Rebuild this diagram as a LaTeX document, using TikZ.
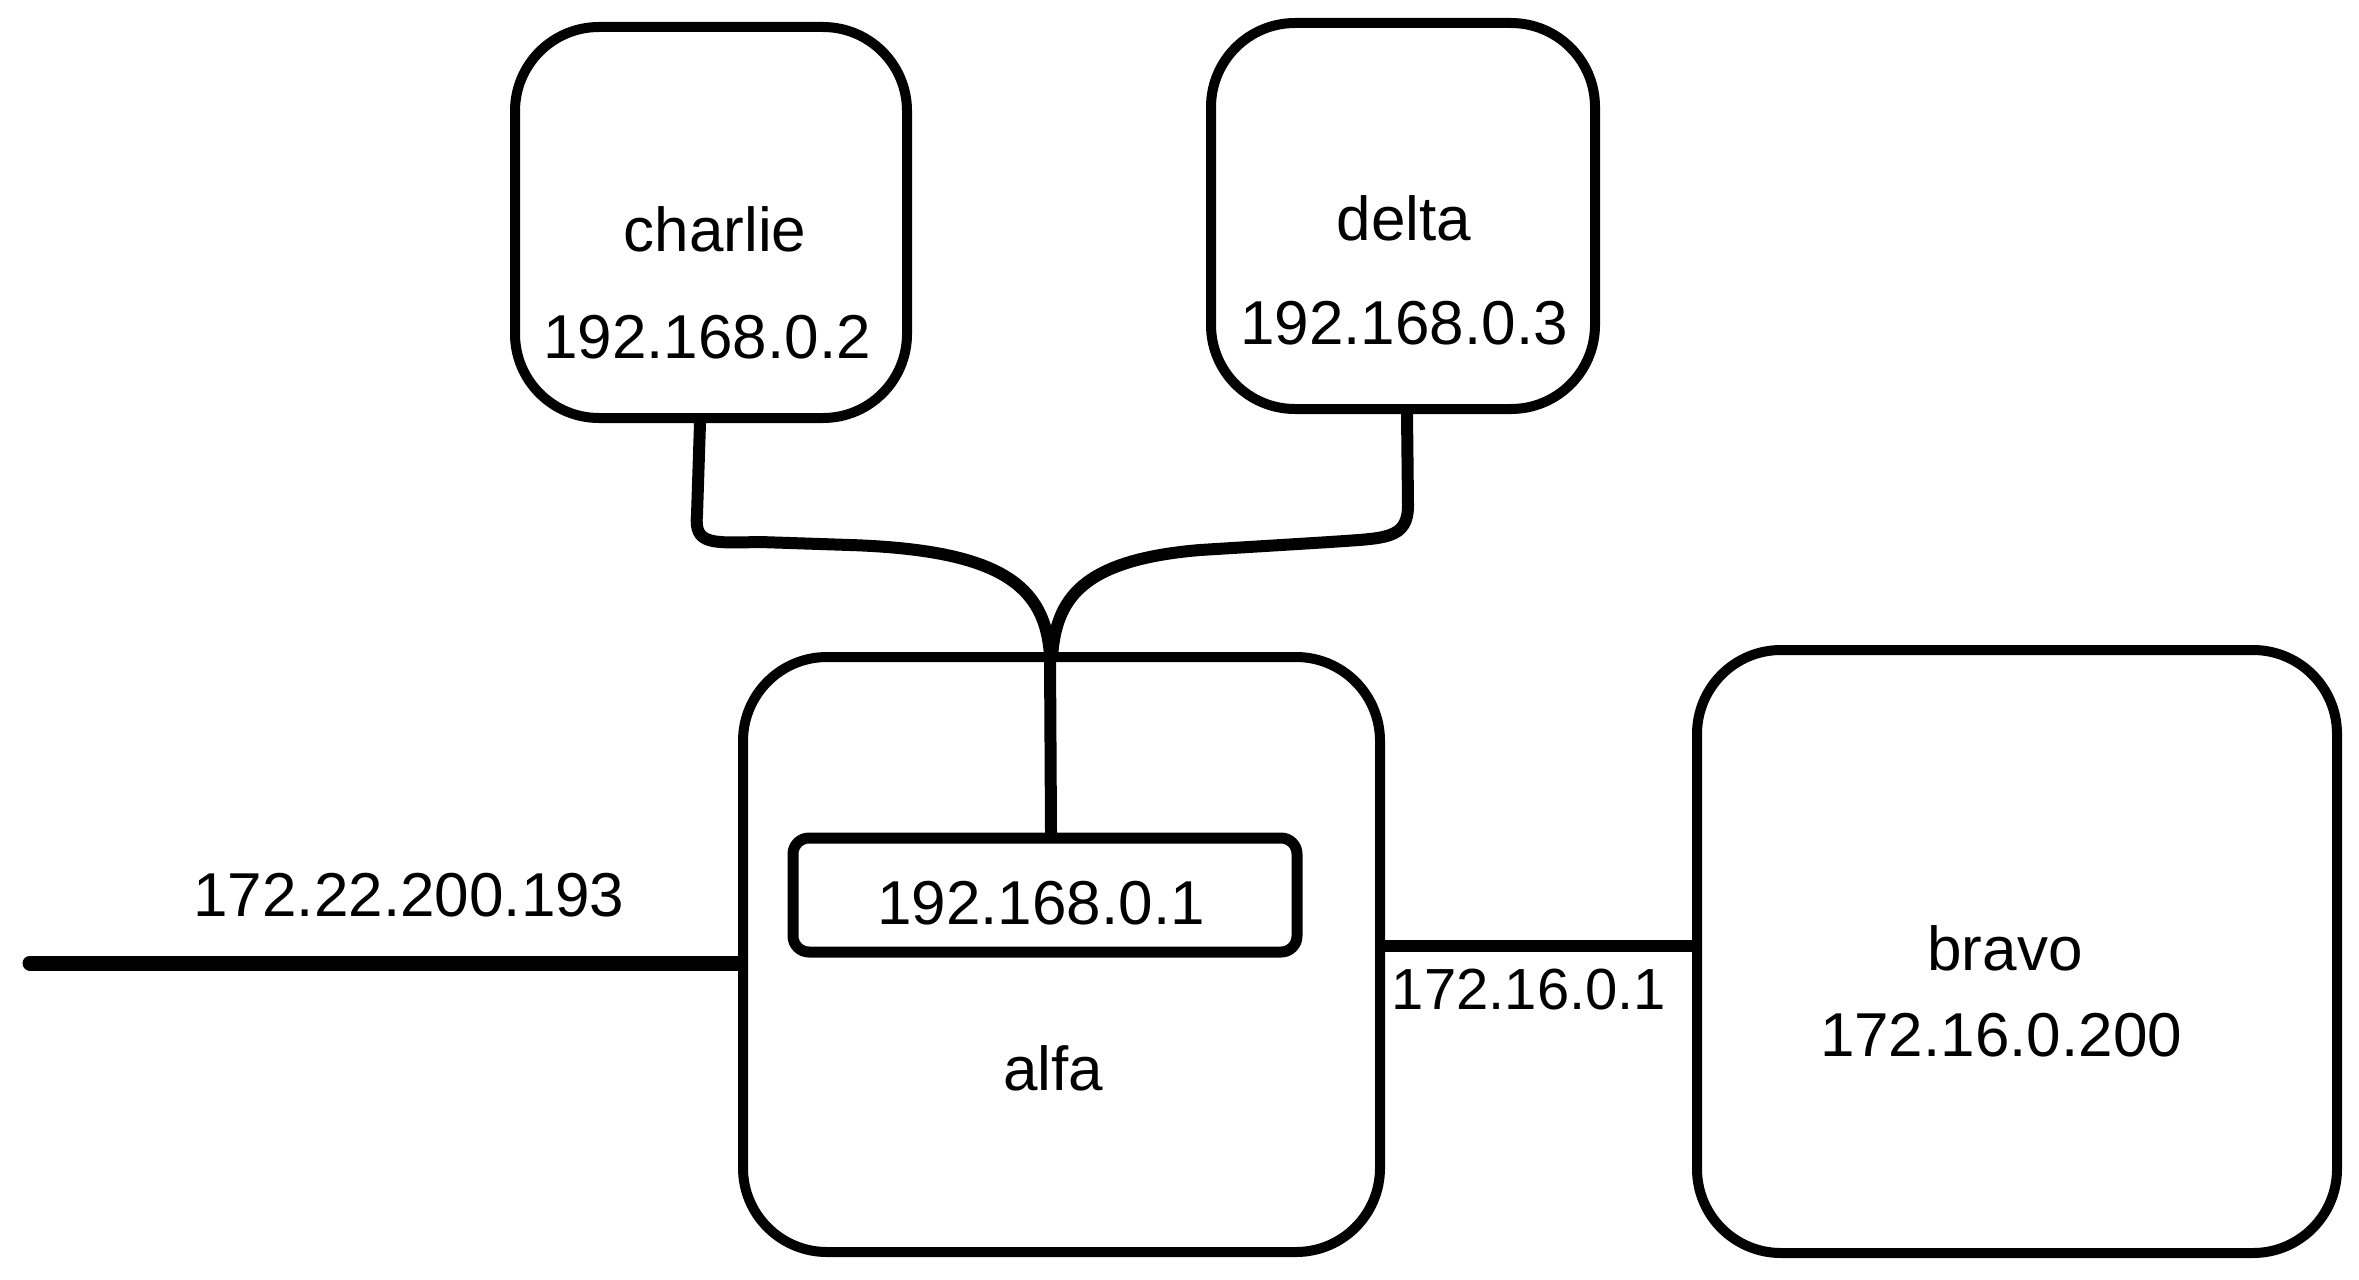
\documentclass[tikz,border=0pt]{standalone}
\usepackage{fontspec}
\setmainfont{Liberation Sans}
\usetikzlibrary{fit}
\begin{document}
\begin{tikzpicture}[x=0.5pt,y=-0.5pt,
  box/.style={draw=black,line width=5pt,rounded corners=42pt,inner sep=0pt},
  ibox/.style={draw=black,line width=5.5pt,rounded corners=8pt,inner sep=0pt},
  wire/.style={draw=black,line width=6pt,line cap=round,line join=round},
  lbl/.style={font=\fontsize{31}{36}\selectfont,inner sep=0pt}]
\useasboundingbox (0,0) rectangle (2359,1279);
% boxes
\node[box,fit={(515,27) (907,418)}] (charlie) {};
\node[box,fit={(1211,23) (1595,409)}] (delta) {};
\node[box,fit={(743,657) (1380,1252)}] (alfa) {};
\node[box,fit={(1697,650) (2337,1253)}] (bravo) {};
\node[ibox,fit={(793,838) (1297,952)}] (inner) {};
% labels
\node[lbl] (tcharlie) at (715,229) {charlie};
\node[lbl] (tcharlieip) at (707,337) {192.168.0.2};
\node[lbl] (tdelta) at (1404,218) {delta};
\node[lbl] (tdeltaip) at (1404,323) {192.168.0.3};
\node[lbl] (tinner) at (1041,903) {192.168.0.1};
\node[lbl] (talfa) at (1053,1068) {alfa};
\node[lbl] (tbravo) at (2005,948) {bravo};
\node[lbl] (tbravoip) at (2001,1035) {172.16.0.200};
\node[lbl] (twan) at (409,895) {172.22.200.193};
\node[lbl,font=\fontsize{29}{34}\selectfont] (tlan) at (1529,990) {172.16.0.1};
% connectors
\coordinate (lft) at (30,963);
\coordinate (cstart) at (700,421);
\coordinate (dstart) at (1407,411);
\coordinate (join) at (1051,657);
\draw[wire,line width=7.5pt] (lft) -- (lft -| alfa.west);
\draw[wire] (alfa.east |- 0,946) -- (bravo.west |- 0,946);
\draw[wire] (charlie.south -| cstart) -- (697,515)
  .. controls (694,545) and (712,543) .. (760,542) -- (850,545)
  .. controls (1000,550) and (1046,585) .. (1050,657) -- (inner.north -| join);
\draw[wire] (delta.south -| dstart) -- (1408,505)
  .. controls (1408,540) and (1385,538) .. (1330,542) -- (1200,550)
  .. controls (1080,560) and (1056,600) .. (1052,657);
\end{tikzpicture}
\end{document}
